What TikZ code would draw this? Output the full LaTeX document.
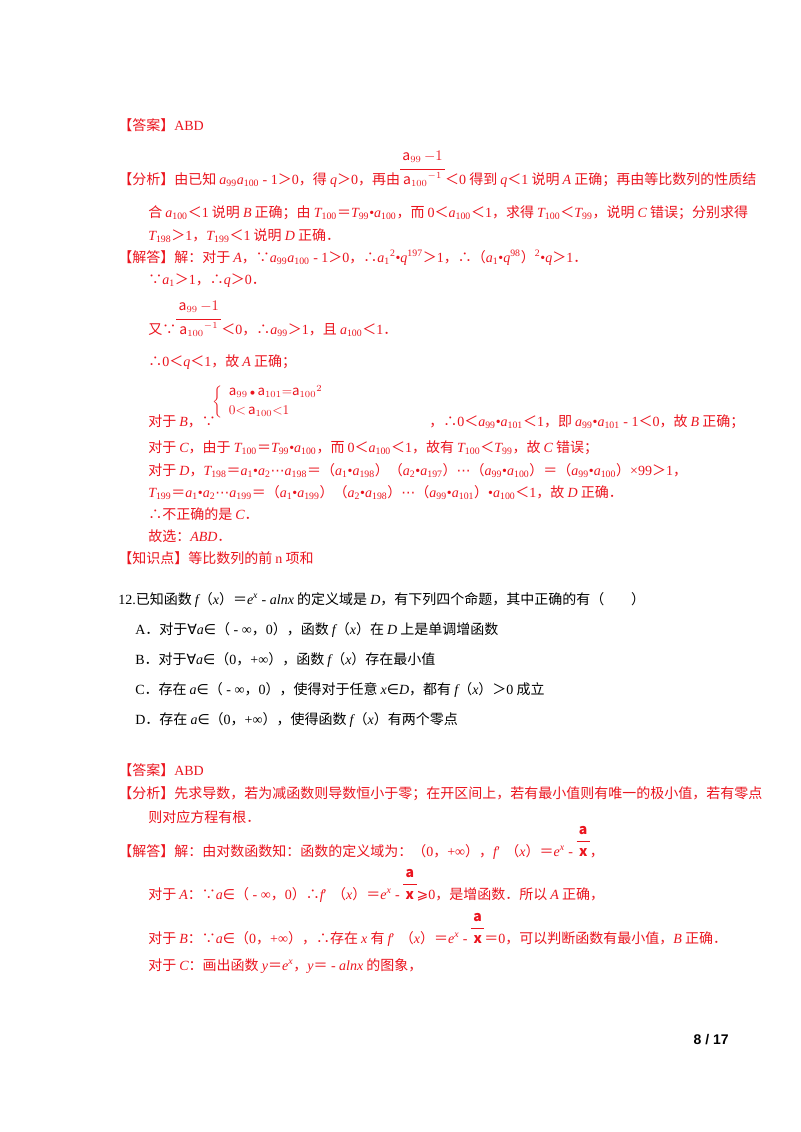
\documentclass[tikz,border=0pt]{standalone}
\usepackage{fontspec}
\setmainfont{Noto Sans CJK SC}
\newfontfamily\tm{Liberation Serif}
\newfontfamily\ar{Liberation Sans}
\newfontfamily\djv{DejaVu Sans}
\newcommand\I[1]{{\tm\itshape #1}}
\newcommand\R[1]{{\tm #1}}
\newcommand\D[1]{{\djv #1}}
\newcommand\LT{＜}
\newcommand\GT{＞}
\newcommand\EQ{＝}
\newcommand\sub[1]{\textsubscript{\tm #1}}
\newcommand\sups[1]{\textsuperscript{\tm #1}}
\newcommand\fa{{\fontsize{10.5}{12}\selectfont$\begin{array}[b]{@{\,}c@{\,}}\mathbf{a}\\[1pt]\hline\rule{0pt}{11pt}\mathbf{x}\end{array}$}}
\newcommand\fb{{\fontsize{10.5}{12}\selectfont$\begin{array}[b]{@{\,}c@{\,}}\mathrm{a}_{99}\,{-}1\\[3pt]\hline\rule{0pt}{11pt}\mathrm{a}_{100}{}^{-1}\end{array}$}}
\definecolor{rd}{RGB}{235,20,30}
\begin{document}
\begin{tikzpicture}[x=0.75pt,y=-0.75pt,
  t/.style={anchor=base west,inner sep=0pt,font=\fontsize{10.5}{12}\selectfont},
  r/.style={t,text=rd},
  fr/.style={anchor=center,inner sep=0pt,text=rd,font=\fontsize{10}{12}\selectfont}]
\useasboundingbox (0,0) rectangle (800,1132);
\fill[white] (0,0) rectangle (800,1132);
% ---- first solution
\node[r] (l1) at (118,130) {【答案】\R{ABD}};
\node[r] (l2) at (118,184) {【分析】由已知 \I{a}\sub{99}\I{a}\sub{100}\R{ - 1}\GT\R{0}，得 \I{q}\GT\R{0}，再由\fb\LT\R{0} 得到 \I{q}\LT\R{1} 说明 \I{A} 正确；再由等比数列的性质结};
\node[r] (l3) at (148,217) {合 \I{a}\sub{100}\LT\R{1} 说明 \I{B} 正确；由 \I{T}\sub{100}\EQ\I{T}\sub{99}\R{•}\I{a}\sub{100}，而 \R{0}\LT\I{a}\sub{100}\LT\R{1}，求得 \I{T}\sub{100}\LT\I{T}\sub{99}，说明 \I{C} 错误；分别求得};
\node[r] (l4) at (148,240) {\I{T}\sub{198}\GT\R{1}，\I{T}\sub{199}\LT\R{1} 说明 \I{D} 正确．};
\node[r] (l5) at (118,262) {【解答】解：对于 \I{A}，∵\I{a}\sub{99}\I{a}\sub{100}\R{ - 1}\GT\R{0}，∴\I{a}\sub{1}\sups{2}\R{•}\I{q}\sups{197}\GT\R{1}，∴（\I{a}\sub{1}\R{•}\I{q}\sups{98}）\sups{2}\R{•}\I{q}\GT\R{1}．};
\node[r] (l6) at (148,284) {∵\I{a}\sub{1}\GT\R{1}，∴\I{q}\GT\R{0}．};
\node[r] (l7) at (148,334) {又∵\fb\LT\R{0}，∴\I{a}\sub{99}\GT\R{1}，且 \I{a}\sub{100}\LT\R{1}．};
\node[r] (l8) at (148,366) {∴\R{0}\LT\I{q}\LT\R{1}，故 \I{A} 正确；};
\node[fr,anchor=west] (sys) at (212,402) {$\left\{\begin{array}{l}\mathrm{a}_{99}\,{\scriptstyle\bullet}\,\mathrm{a}_{101}{=}\mathrm{a}_{100}{}^{2}\\[2pt] 0{<}\,\mathrm{a}_{100}{<}1\end{array}\right.$};
\node[r] (l9) at (148,426) {对于 \I{B}，∵\hspace{160pt}，∴\R{0}\LT\I{a}\sub{99}\R{•}\I{a}\sub{101}\LT\R{1}，即 \I{a}\sub{99}\R{•}\I{a}\sub{101}\R{ - 1}\LT\R{0}，故 \I{B} 正确；};
\node[r] (l10) at (148,452) {对于 \I{C}，由于 \I{T}\sub{100}\EQ\I{T}\sub{99}\R{•}\I{a}\sub{100}，而 \R{0}\LT\I{a}\sub{100}\LT\R{1}，故有 \I{T}\sub{100}\LT\I{T}\sub{99}，故 \I{C} 错误；};
\node[r] (l11) at (148,475) {对于 \I{D}，\I{T}\sub{198}\EQ\I{a}\sub{1}\R{•}\I{a}\sub{2}\D{⋯}\I{a}\sub{198}\EQ（\I{a}\sub{1}\R{•}\I{a}\sub{198}）（\I{a}\sub{2}\R{•}\I{a}\sub{197}）\D{⋯}（\I{a}\sub{99}\R{•}\I{a}\sub{100}）\EQ（\I{a}\sub{99}\R{•}\I{a}\sub{100}）\R{×99}\GT\R{1}，};
\node[r] (l12) at (148,497) {\I{T}\sub{199}\EQ\I{a}\sub{1}\R{•}\I{a}\sub{2}\D{⋯}\I{a}\sub{199}\EQ（\I{a}\sub{1}\R{•}\I{a}\sub{199}）（\I{a}\sub{2}\R{•}\I{a}\sub{198}）\D{⋯}（\I{a}\sub{99}\R{•}\I{a}\sub{101}）\R{•}\I{a}\sub{100}\LT\R{1}，故 \I{D} 正确．};
\node[r] (l13) at (148,519) {∴不正确的是 \I{C}．};
\node[r] (l14) at (148,541) {故选：\I{ABD}．};
\node[r] (l15) at (118,563) {【知识点】等比数列的前 \R{n} 项和};
% ---- question 12
\node[t] (q) at (118,604) {\R{12.}已知函数 \I{f}（\I{x}）\EQ\I{e}\sups{\itshape x}\R{ - }\I{alnx} 的定义域是 \I{D}，有下列四个命题，其中正确的有（\hspace{20pt}）};
\node[t] (qa) at (135,634) {\R{A}．对于\D{∀}\I{a}\D{∈}（\R{ - ∞}，\R{0}），函数 \I{f}（\I{x}）在 \I{D} 上是单调增函数};
\node[t] (qb) at (135,664) {\R{B}．对于\D{∀}\I{a}\D{∈}（\R{0}，\R{+∞}），函数 \I{f}（\I{x}）存在最小值};
\node[t] (qc) at (135,694) {\R{C}．存在 \I{a}\D{∈}（\R{ - ∞}，\R{0}），使得对于任意 \I{x}\D{∈}\I{D}，都有 \I{f}（\I{x}）\GT\R{0} 成立};
\node[t] (qd) at (135,724) {\R{D}．存在 \I{a}\D{∈}（\R{0}，\R{+∞}），使得函数 \I{f}（\I{x}）有两个零点};
% ---- second solution
\node[r] (m1) at (118,775) {【答案】\R{ABD}};
\node[r] (m2) at (118,798) {【分析】先求导数，若为减函数则导数恒小于零；在开区间上，若有最小值则有唯一的极小值，若有零点};
\node[r] (m3) at (148,822) {则对应方程有根．};
\node[r] (m4) at (118,856) {【解答】解：由对数函数知：函数的定义域为：（\R{0}，\R{+∞}），\I{f}{\tm′}\hspace{4pt}（\I{x}）\EQ\I{e}\sups{\itshape x}\R{ - }\fa，};
\node[r] (m5) at (148,899) {对于 \I{A}：∵\I{a}\D{∈}（\R{ - ∞}，\R{0}）∴\I{f}{\tm′}\hspace{4pt}（\I{x}）\EQ\I{e}\sups{\itshape x}\R{ - }\fa\D{⩾}\R{0}，是增函数．所以 \I{A} 正确，};
\node[r] (m6) at (148,943) {对于 \I{B}：∵\I{a}\D{∈}（\R{0}，\R{+∞}），∴存在 \I{x} 有 \I{f}{\tm′}\hspace{4pt}（\I{x}）\EQ\I{e}\sups{\itshape x}\R{ - }\fa\EQ\R{0}，可以判断函数有最小值，\I{B} 正确．};
\node[r] (m7) at (148,970) {对于 \I{C}：画出函数 \I{y}\EQ\I{e}\sups{\itshape x}，\I{y}\EQ\R{ - }\I{alnx} 的图象，};
\node[t,anchor=base east] (pg) at (729,1044) {\textbf{\ar 8 / 17}};
\end{tikzpicture}
\end{document}
